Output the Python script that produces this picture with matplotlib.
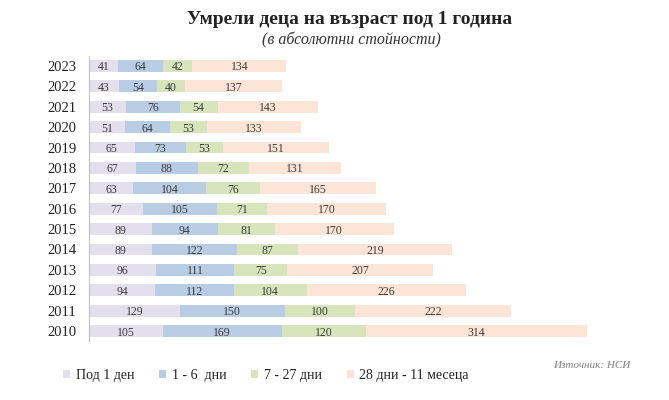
import matplotlib.pyplot as plt
import numpy as np

plt.rcParams['font.family'] = ['Liberation Serif', 'DejaVu Serif']

years = ['2010', '2011', '2012', '2013', '2014', '2015', '2016',
         '2017', '2018', '2019', '2020', '2021', '2022', '2023']
under_1_day = [105, 129, 94, 96, 89, 89, 77, 63, 67, 65, 51, 53, 43, 41]
days_1_6 = [169, 150, 112, 111, 122, 94, 105, 104, 88, 73, 64, 76, 54, 64]
days_7_27 = [120, 100, 104, 75, 87, 81, 71, 76, 72, 53, 53, 54, 40, 42]
days_28_11m = [314, 222, 226, 207, 219, 170, 170, 165, 131, 151, 133, 143, 137, 134]

series = [under_1_day, days_1_6, days_7_27, days_28_11m]
labels = ['Под 1 ден', '1 - 6  дни', '7 - 27 дни', '28 дни - 11 месеца']
colors = ['#e4dfec', '#b8cce4', '#d8e4bc', '#fce4d6']

fig = plt.figure(figsize=(6.69, 4.0), dpi=100)
ax = fig.add_axes([0.133, 0.147, 0.788, 0.7135])

y = np.arange(len(years))
left = np.zeros(len(years))
for vals, lab, col in zip(series, labels, colors):
    vals = np.array(vals)
    ax.barh(y, vals, left=left, height=0.58, color=col, label=lab)
    for yi, l, v in zip(y, left, vals):
        ax.text(l + v / 2, yi, str(v), ha='center', va='center_baseline',
                fontsize=8.5, color='#3a3a3a')
    left += vals

ax.set_xlim(0, 750)
ax.set_ylim(-0.5, len(years) - 0.5)
ax.set_yticks(y)
ax.set_yticklabels(years, fontsize=10.5, color='#222222', va='center_baseline')
ax.tick_params(axis='y', length=0, pad=9)
ax.set_xticks([])
for s in ['top', 'right', 'bottom']:
    ax.spines[s].set_visible(False)
ax.spines['left'].set_color('#bfbfbf')

fig.text(0.523, 0.952, 'Умрели деца на възраст под 1 година', ha='center',
         va='center', fontsize=14, fontweight='bold', color='#222222')
fig.text(0.525, 0.898, '(в абсолютни стойности)', ha='center', va='center',
         fontsize=11.5, style='italic', color='#333333')

fig.legend(loc='center left', bbox_to_anchor=(0.076, 0.0625), ncol=4,
           frameon=False, fontsize=10, handlelength=0.5, handleheight=0.5,
           handletextpad=0.4, columnspacing=1.8, labelcolor='#222222')

fig.text(0.943, 0.085, 'Източник: НСИ', ha='right', va='center',
         fontsize=8, style='italic', color='#808080')

fig.savefig('out.png', dpi=100)
